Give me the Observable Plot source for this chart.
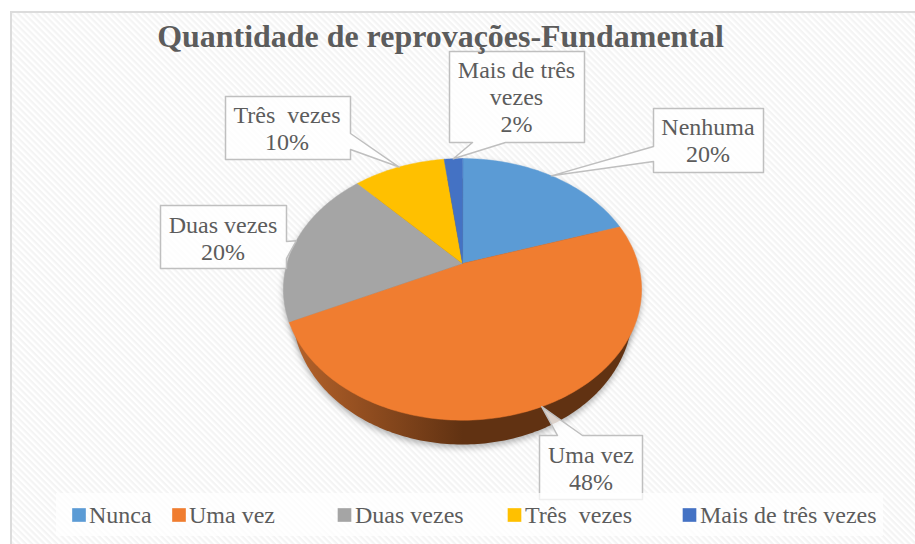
<!DOCTYPE html>
<html><head><meta charset="utf-8">
<script src="https://cdn.jsdelivr.net/npm/d3@7"></script>
<script src="https://cdn.jsdelivr.net/npm/@observablehq/plot@0.6"></script>
<style>
html,body{margin:0;padding:0;background:#fff;overflow:hidden}
svg text{white-space:pre}
</style></head><body><div id="chart"></div>
<script>
// DATA
const titleText = "Quantidade de reprovações-Fundamental";
const legendLabels = ["Nunca", "Uma vez", "Duas vezes", "Três  vezes", "Mais de três vezes"];
const calloutLabels = ["Nenhuma", "Uma vez", "Duas vezes", "Três  vezes", "Mais de três\nvezes"];
const values = [20, 48, 20, 10, 2];

// STYLE AND LAYOUT
const colors = ["#5b9bd5", "#f07d30", "#a5a5a5", "#ffc000", "#4472c4"];
const ink = "#5c5c5c";
const font = "Liberation Serif";
const W = 915, H = 544;
// perspective of the pie: centre of the disc, and the homography to the page
const cx = 462, apexY = 263, persp = -0.198, ka = 73.6, kx = 175.5;
const project = (u, v) => {
  const d = 1 + persp * v;
  return {x: cx + kx * u / d, y: (ka * v + apexY) / d};
};
const rimAt = a => project(Math.sin(a), -Math.cos(a));
// bottom of the pie's wall
const floor = {cy: 311, rx: 170, ry: 133};
// callout boxes: x0,x1,y0,y1, side of the pointer, two attachment coordinates
const boxes = [
  {x0: 653, x1: 763, y0: 108, y1: 172, side: "left",   a: 146, b: 161, tx: 707.5, ty: 139},
  {x0: 539, x1: 642, y0: 435, y1: 499, side: "top",    a: 557, b: 582, tx: 590.5, ty: 467},
  {x0: 160, x1: 286, y0: 205, y1: 268, side: "right",  a: 241, b: 258, tx: 222.5, ty: 237},
  {x0: 225, x1: 350, y0: 96,  y1: 159, side: "right",  a: 133, b: 149, tx: 286.5, ty: 127},
  {x0: 449, x1: 584, y0: 51,  y1: 142, side: "bottom", a: 472, b: 505, tx: 516,   ty: 96}
];
const legendSquareX = [78.5, 178.5, 344, 514, 689];
const legendTextX = [88.5, 188.5, 354.5, 524.5, 699.5];
const legendY = 514.5;

// GEOMETRY derived from the values
const arcs = d3.pie().sort(null)(values);
const range = (a0, a1) => {
  const n = Math.max(2, Math.ceil(Math.abs(a1 - a0) / 0.02));
  return d3.range(n + 1).map(i => a0 + (a1 - a0) * i / n);
};
const slicePts = arcs.flatMap((arc, i) => [
  {cat: legendLabels[i], ...project(0, 0)},
  ...range(arc.startAngle, arc.endAngle).map(a => ({cat: legendLabels[i], ...rimAt(a)}))
]);
const floorPts = range(0, 2 * Math.PI).map(a => ({
  x: cx + floor.rx * Math.sin(a), y: floor.cy - floor.ry * Math.cos(a)
}));
const topPts = range(0, 2 * Math.PI).map(rimAt);
const shadowPts = [...floorPts.map(p => ({...p, g: "floor"})), ...topPts.map(p => ({...p, g: "top"}))];

const calloutPts = boxes.flatMap((b, i) => {
  const mid = (arcs[i].startAngle + arcs[i].endAngle) / 2;
  const tip = rimAt(mid);
  const {x0, x1, y0, y1, side, a, b: c} = b;
  let p;
  if (side === "left") p = [[x0,y0],[x1,y0],[x1,y1],[x0,y1],[x0,c],[tip.x,tip.y],[x0,a]];
  if (side === "right") p = [[x0,y0],[x1,y0],[x1,a],[tip.x,tip.y],[x1,c],[x1,y1],[x0,y1]];
  if (side === "top") p = [[x0,y0],[a,y0],[tip.x,tip.y],[c,y0],[x1,y0],[x1,y1],[x0,y1]];
  if (side === "bottom") p = [[x0,y0],[x1,y0],[x1,y1],[c,y1],[tip.x,tip.y],[a,y1],[x0,y1]];
  return p.map(([x, y]) => ({x, y, k: i}));
});
const calloutText = boxes.map((b, i) => ({
  x: b.tx, y: b.ty, text: `${calloutLabels[i]}\n${values[i]}%`
}));
const legendRows = legendLabels.map((cat, i) => ({cat, sx: legendSquareX[i], tx: legendTextX[i]}));

// SVG paint servers
const defs = () => {
  const d = d3.create("svg:defs");
  const h = d.append("pattern").attr("id", "hatch").attr("patternUnits", "userSpaceOnUse")
    .attr("width", 4.4).attr("height", 4.4).attr("patternTransform", "rotate(45)");
  h.append("rect").attr("width", 4.4).attr("height", 4.4).attr("fill", "#ffffff");
  h.append("rect").attr("width", 4.4).attr("height", 2.2).attr("fill", "#f4f4f4");
  const g = d.append("linearGradient").attr("id", "wall");
  g.append("stop").attr("offset", "0").attr("stop-color", "#b5622a");
  g.append("stop").attr("offset", "0.5").attr("stop-color", "#613212");
  g.append("stop").attr("offset", "1").attr("stop-color", "#613212");
  return d.node();
};

const blurred = (index, scales, channels, dims, ctx, next) => {
  const el = next(index, scales, channels, dims, ctx);
  el.style.filter = "blur(3px)";
  return el;
};

const chart = Plot.plot({
  width: W, height: H,
  marginTop: 0, marginRight: 0, marginBottom: 0, marginLeft: 0,
  x: {domain: [0, W], range: [0, W], axis: null},
  y: {domain: [0, H], range: [0, H], axis: null},
  color: {domain: legendLabels, range: colors},
  style: {background: "#fff", fontFamily: font},
  marks: [
    defs,
    // chart background, open to the right and below as in the picture
    Plot.rect([0], {x1: () => 11, x2: () => W + 10, y1: () => 12, y2: () => H + 10,
      fill: "url(#hatch)", stroke: "#dcdcdc", strokeWidth: 2}),
    // soft shadow, wall, top
    Plot.line(shadowPts, {x: "x", y: d => d.y + 3, z: "g", fill: "#000", fillOpacity: 0.3, stroke: "none",
      curve: "linear-closed", render: blurred}),
    Plot.line(floorPts, {x: "x", y: "y", fill: "url(#wall)", stroke: "none", curve: "linear-closed"}),
    Plot.line(slicePts, {x: "x", y: "y", z: "cat", fill: "cat", stroke: "cat", strokeWidth: 0.5,
      curve: "linear-closed"}),
    // callouts
    Plot.line(calloutPts, {x: "x", y: "y", z: "k", fill: "#fff", fillOpacity: 0.78,
      stroke: "#bfbfbf", strokeWidth: 1.5, curve: "linear-closed"}),
    Plot.text(calloutText, {x: "x", y: "y", text: "text", fill: ink, fontSize: 24, lineHeight: 1.125,
      textAnchor: "middle", lineAnchor: "middle", fontFamily: font}),
    // legend
    Plot.rect([0], {x1: () => 56, x2: () => 883, y1: () => 493, y2: () => 536, fill: "#fff", fillOpacity: 0.75}),
    Plot.dot(legendRows, {x: "sx", y: () => legendY, fill: "cat", stroke: "none", symbol: "square", r: 7.7}),
    Plot.text(legendRows, {x: "tx", y: () => legendY, text: "cat", fill: ink, fontSize: 24,
      textAnchor: "start", lineAnchor: "middle", fontFamily: font}),
    // title
    Plot.text([titleText], {x: () => 440, y: () => 36, text: d => d, fill: ink, fontSize: 31.95, fontWeight: "bold",
      textAnchor: "middle", lineAnchor: "middle", fontFamily: font})
  ]
});
document.getElementById("chart").append(chart);
</script></body></html>
